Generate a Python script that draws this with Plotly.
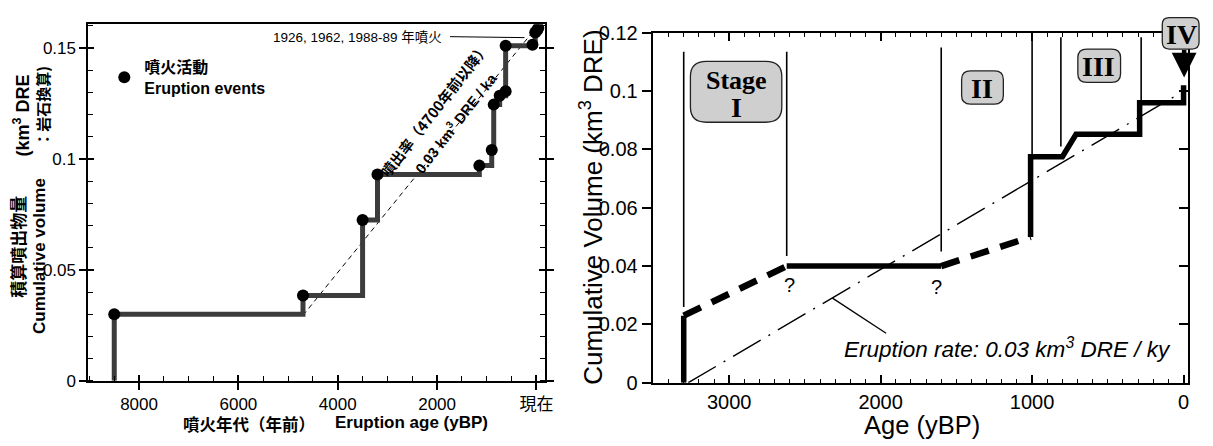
import plotly.graph_objects as go

W, H = 1213, 446
FONT = "Liberation Sans, Arial, Noto Sans CJK JP, sans-serif"
JP = "Noto Sans CJK JP, Liberation Sans, sans-serif"
SERIF = "Liberation Serif, Times New Roman, serif"

# ---------------- Left panel data ----------------
event_age = [8500, 4700, 3500, 3200, 1150, 900, 860, 740, 620, 620, 80, 24, -12, -38]
event_vol = [0.030, 0.0385, 0.0725, 0.093, 0.097, 0.104, 0.1245, 0.1285, 0.1305,
             0.151, 0.1515, 0.157, 0.158, 0.159]
step_start_age = [8500]
step_start_vol = [0.0]
rate_left_age = [4700, 50]
rate_left_vol = [0.0295, 0.158]
left_xtick_vals = [8000, 6000, 4000, 2000, 0]
left_xtick_text = ["8000", "6000", "4000", "2000", "現在"]
left_ytick_vals = [0, 0.05, 0.1, 0.15]
left_ytick_text = ["0", "0.05", "0.1", "0.15"]

# ---------------- Right panel data ----------------
solid1_age = [3300, 3300]
solid1_vol = [0.0, 0.023]
dash1_age = [3300, 2620]
dash1_vol = [0.023, 0.040]
solid2_age = [2620, 1600]
solid2_vol = [0.040, 0.040]
dash2_age = [1600, 1010]
dash2_vol = [0.040, 0.050]
solid3_age = [1010, 1010, 800, 710, 290, 290, 0, 0]
solid3_vol = [0.050, 0.0775, 0.0775, 0.0852, 0.0852, 0.0960, 0.0960, 0.102]
rate_right_age = [3270, 0]
rate_right_vol = [0.0, 0.100]
stage_bound_age = [3300, 2620, 1600, 1000, 810, 280]
stage_bound_bottom = [0.026, 0.0435, 0.045, 0.078, 0.081, 0.097]
stage_bound_top = [0.1135, 0.1135, 0.115, 0.120, 0.1185, 0.1185]
right_xtick_vals = [3000, 2000, 1000, 0]
right_xtick_text = ["3000", "2000", "1000", "0"]
right_ytick_vals = [0, 0.02, 0.04, 0.06, 0.08, 0.1, 0.12]
right_ytick_text = ["0", "0.02", "0.04", "0.06", "0.08", "0.1", "0.12"]


def px(x, y):
    return x / W, 1 - y / H


fig = go.Figure()

# ---- left panel traces ----
fig.add_trace(go.Scatter(x=rate_left_age, y=rate_left_vol, mode="lines",
                         line=dict(color="black", width=1, dash="5px,4px"),
                         xaxis="x", yaxis="y", showlegend=False, hoverinfo="skip"))
fig.add_trace(go.Scatter(x=step_start_age + event_age, y=step_start_vol + event_vol,
                         mode="lines", line=dict(color="#3c3c3c", width=5, shape="hv"),
                         xaxis="x", yaxis="y", showlegend=False, hoverinfo="skip"))
fig.add_trace(go.Scatter(x=event_age, y=event_vol, mode="markers",
                         marker=dict(color="black", size=12),
                         name="<b>噴火活動</b><br><b>Eruption events</b>",
                         xaxis="x", yaxis="y", showlegend=True))
# overlay helpers for crossing ticks
fig.add_trace(go.Scatter(x=[None], y=[None], xaxis="x3", yaxis="y", showlegend=False))
fig.add_trace(go.Scatter(x=[None], y=[None], xaxis="x", yaxis="y3", showlegend=False))

# ---- right panel traces ----
sb_x, sb_y = [], []
for a, b0, b1 in zip(stage_bound_age, stage_bound_bottom, stage_bound_top):
    sb_x += [a, a, None]
    sb_y += [b0, b1, None]
fig.add_trace(go.Scatter(x=sb_x, y=sb_y, mode="lines", line=dict(color="black", width=1.6),
                         xaxis="x2", yaxis="y2", showlegend=False, hoverinfo="skip"))
fig.add_trace(go.Scatter(x=rate_right_age, y=rate_right_vol, mode="lines",
                         line=dict(color="black", width=1.4, dash="32px,9px,2px,9px"),
                         xaxis="x2", yaxis="y2", showlegend=False, hoverinfo="skip"))
for ax_, ay_ in [(solid1_age, solid1_vol), (solid2_age, solid2_vol), (solid3_age, solid3_vol)]:
    fig.add_trace(go.Scatter(x=ax_, y=ay_, mode="lines",
                             line=dict(color="black", width=5.5),
                             xaxis="x2", yaxis="y2", showlegend=False, hoverinfo="skip"))
for ax_, ay_ in [(dash1_age, dash1_vol), (dash2_age, dash2_vol)]:
    fig.add_trace(go.Scatter(x=ax_, y=ay_, mode="lines",
                             line=dict(color="black", width=6.5, dash="19px,12px"),
                             xaxis="x2", yaxis="y2", showlegend=False, hoverinfo="skip"))
fig.add_trace(go.Scatter(x=[None], y=[None], xaxis="x2", yaxis="y4", showlegend=False))

# ---- axes ----
L_XDOM = [89 / W, 549 / W]
L_YDOM = [(H - 389) / H, (H - 14) / H]
R_XDOM = [657 / W, 1196 / W]
R_YDOM = [(H - 391) / H, (H - 23) / H]
L_XR = [9020, -180]
L_YR = [0, 0.1607]
R_XR = [3505, -30]
R_YR = [0, 0.12]

common = dict(showgrid=False, zeroline=False, tickcolor="black", linecolor="black")

fig.update_layout(
    xaxis=dict(domain=L_XDOM, range=L_XR, autorange=False, anchor="y",
               tickmode="array", tickvals=left_xtick_vals, ticktext=left_xtick_text,
               ticks="outside", ticklen=7, tickwidth=1.8, showline=True, linewidth=2,
               mirror=True, tickfont=dict(size=17, family=FONT, color="black"),
               minor=dict(tickmode="linear", tick0=0, dtick=500, ticks="inside",
                          ticklen=5, tickwidth=1.3, tickcolor="black"), **common),
    xaxis3=dict(overlaying="x", anchor="y", range=L_XR, autorange=False,
                tickmode="array", tickvals=left_xtick_vals, ticks="inside", ticklen=6,
                tickwidth=1.8, showticklabels=False, showline=False, **common),
    yaxis=dict(domain=L_YDOM, range=L_YR, autorange=False, anchor="x",
               tickmode="array", tickvals=left_ytick_vals, ticktext=left_ytick_text,
               ticks="outside", ticklen=7, tickwidth=1.8, showline=True, linewidth=2,
               mirror="ticks", tickfont=dict(size=17, family=FONT, color="black"),
               minor=dict(tickmode="linear", tick0=0, dtick=0.01, ticks="inside",
                          ticklen=5, tickwidth=1.3, tickcolor="black"), **common),
    yaxis3=dict(overlaying="y", anchor="x", range=L_YR, autorange=False,
                tickmode="array", tickvals=left_ytick_vals, ticks="inside", ticklen=6,
                tickwidth=1.8, mirror="ticks", showticklabels=False, showline=False, **common),
    xaxis2=dict(domain=R_XDOM, range=R_XR, autorange=False, anchor="y2",
                tickmode="array", tickvals=right_xtick_vals, ticktext=right_xtick_text,
                ticks="inside", ticklen=8, tickwidth=1.6, showline=True, linewidth=2,
                mirror="ticks", tickfont=dict(size=20, family=FONT, color="black"),
                minor=dict(tickmode="linear", tick0=0, dtick=100, ticks="inside",
                           ticklen=4, tickwidth=1.3, tickcolor="black"), **common),
    yaxis2=dict(domain=R_YDOM, range=R_YR, autorange=False, anchor="x2",
                tickmode="array", tickvals=right_ytick_vals, ticktext=right_ytick_text,
                ticks="outside", ticklen=9, tickwidth=1.6, showline=True, linewidth=2,
                mirror=True, tickfont=dict(size=20, family=FONT, color="black"), **common),
    yaxis4=dict(overlaying="y2", anchor="x2", side="right", range=R_YR, autorange=False,
                tickmode="array", tickvals=right_ytick_vals, ticks="inside", ticklen=9,
                tickwidth=1.6, showticklabels=False, showline=False, **common),
)

# ---- annotations ----
anns = []


def ann(text, x, y, size, family=FONT, angle=0, xanchor="center", yanchor="middle", color="black"):
    X, Y = px(x, y)
    anns.append(dict(text=text, x=X, y=Y, xref="paper", yref="paper", showarrow=False,
                     xanchor=xanchor, yanchor=yanchor, textangle=angle,
                     font=dict(size=size, family=family, color=color)))


# left panel texts
ann("1926, 1962, 1988-89 年噴火", 273, 28, 13.5, xanchor="left")
ann("<b>噴出率（4700年前以降）</b>", 437, 104, 14.5, family=JP, angle=-52)
ann("<b>0.03 km<sup>3</sup> DRE / ka</b>", 459, 117, 14.5, angle=-52)
ann("<b>積算噴出物量</b>", 18, 248, 17, family=JP, angle=-90)
ann("<b>(km<sup>3</sup> DRE</b>", 22, 110, 18, angle=-90)
ann("<b>Cumulative volume</b>", 40, 258, 17, angle=-90)
ann("<b>：岩石換算)</b>", 42, 100, 15, family=JP, angle=-90)
ann("<b>噴火年代（年前）</b>", 251, 434, 16.5, family=JP)
ann("<b>Eruption age (yBP)</b>", 414, 433, 17)

# right panel texts
ann("Cumulative Volume (km<sup>3</sup> DRE)", 596, 207, 26, angle=-90)
ann("Age (yBP)", 928, 435, 25.5)
ann("?", 795, 288, 20)
ann("?", 943, 290, 20)
ann("<i>Eruption rate: 0.03 km<sup>3</sup> DRE / ky</i>", 1014, 355, 22.5)

# stage labels
ann("<b>Stage</b>", 741, 73, 26, family=SERIF)
ann("<b>I</b>", 741, 102, 28, family=SERIF)
ann("<b>II</b>", 989, 81, 28, family=SERIF)
ann("<b>III</b>", 1106, 58, 28, family=SERIF)
ann("<b>IV</b>", 1189, 25, 28, family=SERIF)

# IV arrow
tx, ty = px(1192, 70)
anns.append(dict(text="", x=tx, y=ty, xref="paper", yref="paper", showarrow=True,
                 ax=0, ay=-29, arrowhead=2, arrowsize=1.1, arrowwidth=4.5, arrowcolor="black"))


def rrect(x0, y0, x1, y1, r):
    fx = lambda v: v / W
    fy = lambda v: 1 - v / H
    path = (f"M {fx(x0 + r)},{fy(y0)} L {fx(x1 - r)},{fy(y0)} Q {fx(x1)},{fy(y0)} {fx(x1)},{fy(y0 + r)} "
            f"L {fx(x1)},{fy(y1 - r)} Q {fx(x1)},{fy(y1)} {fx(x1 - r)},{fy(y1)} "
            f"L {fx(x0 + r)},{fy(y1)} Q {fx(x0)},{fy(y1)} {fx(x0)},{fy(y1 - r)} "
            f"L {fx(x0)},{fy(y0 + r)} Q {fx(x0)},{fy(y0)} {fx(x0 + r)},{fy(y0)} Z")
    return dict(type="path", xref="paper", yref="paper", path=path,
                fillcolor="#cfcfcf", line=dict(color="#222222", width=1.3), layer="above")


def seg(x0, y0, x1, y1, w=1.0):
    X0, Y0 = px(x0, y0)
    X1, Y1 = px(x1, y1)
    return dict(type="line", xref="paper", yref="paper", x0=X0, y0=Y0, x1=X1, y1=Y1,
                line=dict(color="black", width=w))


shapes = [
    rrect(695, 53, 787, 117, 16),
    rrect(968, 63, 1010, 98, 9),
    rrect(1085, 40, 1128, 75, 9),
    rrect(1170, 7, 1207, 40, 7),
    seg(453, 27, 528, 28, 1.0),
    seg(892, 339, 838, 302, 1.3),
]

fig.update_layout(
    width=W, height=H, margin=dict(l=0, r=0, t=0, b=0),
    paper_bgcolor="white", plot_bgcolor="white",
    annotations=anns, shapes=shapes,
    showlegend=True,
    legend=dict(x=105 / W, y=1 - 41 / H, xanchor="left", yanchor="top",
                bgcolor="rgba(0,0,0,0)", borderwidth=0,
                font=dict(size=16, family=FONT, color="black"), valign="middle"),
    font=dict(family=FONT, color="black"),
)

fig.write_html("out.html")
